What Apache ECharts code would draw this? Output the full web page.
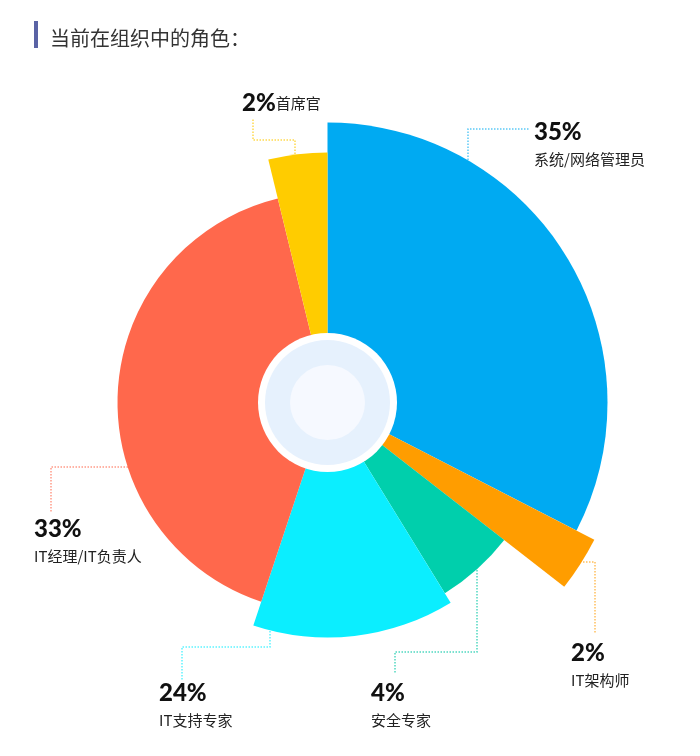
<!DOCTYPE html>
<html>
<head>
<meta charset="utf-8">
<script src="https://cdn.jsdelivr.net/npm/echarts@6/dist/echarts.min.js"></script>
<style>
  html, body { margin: 0; padding: 0; background: #fff; }
  #main { width: 700px; height: 756px; }
</style>
</head>
<body>
<div id="main"></div>
<script>
// data
const roles = ['系统/网络管理员', 'IT架构师', '安全专家', 'IT支持专家', 'IT经理/IT负责人', '首席官'];
const shares = [35, 2, 4, 24, 33, 2];
// angular extent of each sector, degrees (as drawn)
const sectorAngles = [117.2, 10.7, 20.5, 50.0, 147.9, 13.7];

// styling
const sliceColors = ['#00aaf2', '#ff9d00', '#00cfac', '#0beeff', '#ff684c', '#ffcc00'];
const lineColors = ['#5cc9f6', '#ffbf5c', '#4fd8c0', '#5ef3ff', '#ff9a88', '#ffd94d'];
const sectorRadius = [280, 300, 224, 235, 210, 250];
const center = [327.5, 402.5];

// label boxes and guide lines
const labelPlace = [
  { x: 534, y: 117, pts: [[468, 160], [468, 129], [530, 129]] },
  { x: 571, y: 638, pts: [[583, 562], [595, 562], [595, 634]] },
  { x: 371, y: 678, pts: [[477, 570], [477, 652], [395, 652], [395, 674]] },
  { x: 159, y: 678, pts: [[270, 631], [270, 647], [182, 647], [182, 680]] },
  { x: 34, y: 514, pts: [[128, 467], [51, 467], [51, 512]] },
  { x: 242, y: 88, pts: [[295, 154], [295, 140], [253, 140], [253, 118]] }
];

const myChart = echarts.init(document.getElementById('main'));

const sectorSeries = roles.map((role, i) => ({
  type: 'pie',
  silent: true,
  center: center,
  radius: [0, sectorRadius[i]],
  startAngle: 90,
  clockwise: true,
  avoidLabelOverlap: false,
  animation: false,
  data: sectorAngles.map((a, j) => {
    const own = j === i;
    return {
      name: roles[j],
      value: a,
      itemStyle: { color: own ? sliceColors[j] : 'rgba(0,0,0,0)' },
      label: { show: own },
      labelLine: { show: own, lineStyle: { color: lineColors[j] } }
    };
  }),
  label: {
    position: 'outside',
    formatter: () => i === 5
      ? '{p|' + shares[i] + '%}{n|' + role + '}'
      : '{p|' + shares[i] + '%}\n{n|' + role + '}',
    rich: {
      p: { fontFamily: 'Lato, "Noto Sans"', fontWeight: 900, fontSize: 24, color: '#111', lineHeight: 30 },
      n: { fontFamily: '"Noto Sans CJK SC"', fontSize: 15, color: '#222', lineHeight: 24 }
    }
  },
  labelLine: {
    show: true,
    smooth: false,
    lineStyle: { type: 'dotted', width: 1.5 }
  },
  labelLayout: () => ({
    x: labelPlace[i].x,
    y: labelPlace[i].y,
    align: 'left',
    verticalAlign: 'top',
    labelLinePoints: labelPlace[i].pts
  })
}));

// hub circles in the middle
const hub = [[69.5, '#ffffff'], [62.5, '#e6f1fd'], [37.5, '#f6f9ff']].map(([r, c]) => ({
  type: 'pie',
  silent: true,
  animation: false,
  center: center,
  radius: [0, r],
  label: { show: false },
  labelLine: { show: false },
  data: [{ value: 1, itemStyle: { color: c } }]
}));

const option = {
  backgroundColor: '#fff',
  title: {
    text: '当前在组织中的角色：',
    left: 45,
    top: 23,
    textStyle: { fontFamily: '"Noto Sans CJK SC"', fontSize: 20, fontWeight: 'normal', color: '#333' }
  },
  graphic: [
    { type: 'rect', left: 34, top: 21, shape: { width: 4, height: 27 }, style: { fill: '#5a63a5' } }
  ],
  series: [...sectorSeries, ...hub]
};

myChart.setOption(option);
</script>
</body>
</html>
